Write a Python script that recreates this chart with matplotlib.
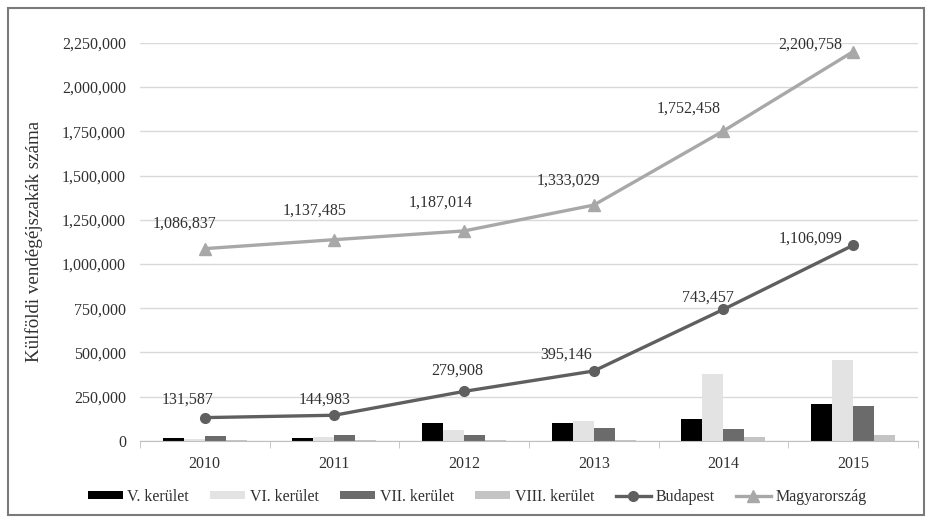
import numpy as np
import matplotlib.pyplot as plt
from matplotlib.patches import Rectangle

plt.rcParams['font.family'] = ['Liberation Serif', 'DejaVu Serif']

years = ['2010', '2011', '2012', '2013', '2014', '2015']

# kerületek (bars)
ker_v = [18000, 15000, 103000, 103000, 123000, 210000]
ker_vi = [12000, 24000, 63000, 110000, 380000, 455000]
ker_vii = [25000, 36000, 34000, 74000, 66000, 196000]
ker_viii = [7000, 7000, 7000, 7000, 24000, 36000]

# lines
budapest = [131587, 144983, 279908, 395146, 743457, 1106099]
magyarorszag = [1086837, 1137485, 1187014, 1333029, 1752458, 2200758]

yticks = [0, 250000, 500000, 750000, 1000000, 1250000, 1500000, 1750000, 2000000, 2250000]

fig = plt.figure(figsize=(9.32, 5.23), dpi=100)
ax = fig.add_axes([0.150, 0.157, 0.835, 0.761])

x = np.arange(len(years))
w = 0.162
bar_series = [(ker_v, '#000000', 'V. kerület'),
              (ker_vi, '#e3e3e3', 'VI. kerület'),
              (ker_vii, '#6b6b6b', 'VII. kerület'),
              (ker_viii, '#c4c4c4', 'VIII. kerület')]
handles = []
for i, (vals, col, lab) in enumerate(bar_series):
    b = ax.bar(x + (i - 1.5) * w, vals, w, color=col, label=lab, zorder=2)
    handles.append(b)

l1, = ax.plot(x, budapest, color='#5f5f5f', lw=2.4, marker='o', ms=7, label='Budapest', zorder=3)
l2, = ax.plot(x, magyarorszag, color='#a8a8a8', lw=2.4, marker='^', ms=8.5, label='Magyarország', zorder=3)
handles += [l1, l2]

# label offsets in pixels (dx, dy) relative to the point
bp_off = [(-17, 18), (-10, 16), (-7, 21), (-28, 16), (-16, 12), (-43, 7)]
hu_off = [(-20, 25), (-20, 29), (-23, 28), (-25, 24), (-35, 22), (-43, 7)]
for vals, offs in [(budapest, bp_off), (magyarorszag, hu_off)]:
    for xi, v, (dx, dy) in zip(x, vals, offs):
        ax.annotate(f'{v:,}', (xi, v), xytext=(dx * 0.72, dy * 0.72),
                    textcoords='offset points', ha='center', va='center',
                    fontsize=11.5, color='#303030', zorder=4)

ax.set_xlim(-0.5, len(years) - 0.5)
ax.set_ylim(0, 2250000)
ax.set_yticks(yticks)
ax.set_yticklabels([f'{t:,}' for t in yticks])
ax.set_xticks(x)
ax.set_xticklabels(years)
ax.set_xticks(np.arange(-0.5, len(years)), minor=True)
ax.tick_params(axis='y', length=0, pad=10, labelsize=11.5, labelcolor='#303030')
ax.tick_params(axis='x', which='major', length=0, pad=11, labelsize=11.5, labelcolor='#303030')
ax.tick_params(axis='x', which='minor', length=5, color='#bfbfbf', direction='out')

ax.grid(axis='y', color='#d9d9d9', lw=1, zorder=0)
ax.set_axisbelow(True)
for s in ['top', 'right', 'left']:
    ax.spines[s].set_visible(False)
ax.spines['bottom'].set_color('#bfbfbf')

ax.set_ylabel('Külföldi vendégéjszakák száma', fontsize=13.7, color='#303030')
ax.yaxis.set_label_coords(-0.124, 0.5)

fig.legend(handles=handles, loc='center', bbox_to_anchor=(0.512, 0.05), ncol=6, frameon=False,
           fontsize=11.5, handlelength=2.2, handleheight=0.45, columnspacing=1.32,
           handletextpad=0.3, labelcolor='#303030')

fig.patches.append(Rectangle((0.0086, 0.0153), 0.983, 0.969, transform=fig.transFigure,
                             fill=False, edgecolor='#7a7a7a', lw=1.5))

fig.savefig('out.png', dpi=100)
